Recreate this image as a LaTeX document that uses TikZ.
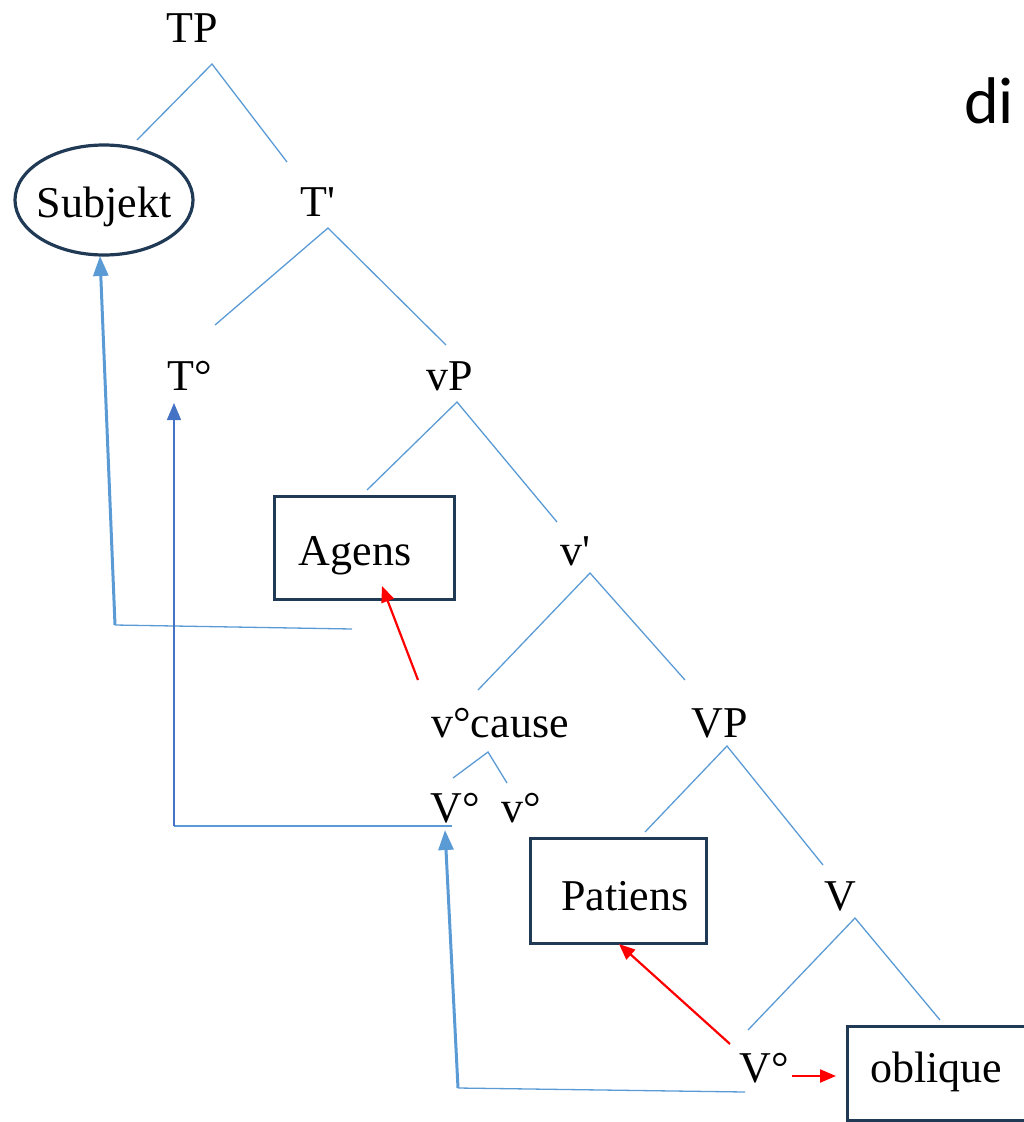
\documentclass[tikz,border=0pt]{standalone}
\usepackage{fontspec}
\setmainfont{Liberation Serif}
\newfontfamily\labelsans{Carlito}
\usetikzlibrary{arrows.meta,shapes.geometric}
\definecolor{branch}{HTML}{5B9BD5}
\definecolor{movedark}{HTML}{4472C4}
\definecolor{frame}{HTML}{203A56}
\begin{document}
\begin{tikzpicture}[x=1pt,y=-1pt,
  lbl/.style={font=\fontsize{44}{48}\selectfont, inner sep=0pt, anchor=base},
  br/.style={branch, line width=1.3pt},
  boxed/.style={draw=frame, line width=3pt, minimum height=103pt, inner sep=0pt, font=\fontsize{44}{48}\selectfont},
  mv/.style={branch, line width=1.3pt},
  mvthick/.style={branch, line width=3pt, -{Triangle[length=20pt,width=15pt]}},
  mvdark/.style={movedark, line width=1.5pt, -{Triangle[length=17pt,width=14pt]}},
  redmove/.style={draw=red, line width=2.2pt, -{Triangle[length=16pt,width=13pt]}}]
\useasboundingbox (0,0) rectangle (1024,1122);

% heading fragment at the right edge
\node[font=\labelsans\fontsize{66}{70}\selectfont, anchor=base west, inner sep=0pt] (di) at (964,123) {di};

% labels
\node[lbl] (TP) at (192,42) {TP};
\node[draw=frame, line width=3.2pt, ellipse, minimum width=178pt, minimum height=110pt, inner sep=0pt] (subj) at (104,200) {};
\node[lbl] (subjtext) at (104,217) {Subjekt};
\node[lbl] (Tbar) at (318,216) {T\textquotesingle};
\node[lbl] (T0) at (190,390) {T°};
\node[lbl] (vP) at (450,390) {vP};
\node[boxed, minimum width=180pt] (agens) at (364,548) {};
\node[lbl] (agenstext) at (355,565) {Agens};
\node[lbl] (vbar) at (575,565) {v\textquotesingle};
\node[lbl] (vcause) at (500,737) {v°cause};
\node[lbl] (VP) at (720,737) {VP};
\node[lbl] (V0a) at (455,822) {V°};
\node[lbl] (v0) at (521,822) {v°};
\node[boxed, minimum width=176pt, minimum height=105pt] (patiens) at (618,891) {};
\node[lbl] (patienstext) at (625,910) {Patiens};
\node[lbl] (Vbar) at (840,910) {V};
\node[lbl] (V0b) at (764,1082) {V°};
\node[boxed, minimum width=190pt, minimum height=94pt] (obl) at (942,1073) {};
\node[lbl] (obltext) at (936,1082) {oblique};

% branch points
\coordinate (tp) at (212,64);
\coordinate (tpL) at (137,140);
\coordinate (tpR) at (287,162);
\coordinate (tb) at (328,228);
\coordinate (tbL) at (215,325);
\coordinate (tbR) at (446,345);
\coordinate (vp) at (457,402);
\coordinate (vpL) at (367,490);
\coordinate (vpR) at (557,522);
\coordinate (vb) at (590,573);
\coordinate (vbL) at (478,690);
\coordinate (vbR) at (685,680);
\coordinate (vc) at (488,752);
\coordinate (vcL) at (453,778);
\coordinate (vcR) at (507,783);
\coordinate (VPt) at (727,746);
\coordinate (VPL) at (645,832);
\coordinate (VPR) at (823,865);
\coordinate (Vt) at (855,918);
\coordinate (VL) at (748,1030);
\coordinate (VR) at (940,1020);

\draw[br] (tpL) -- (tp) -- (tpR);
\draw[br] (tbL) -- (tb) -- (tbR);
\draw[br] (vpL) -- (vp) -- (vpR);
\draw[br] (vbL) -- (vb) -- (vbR);
\draw[br] (vcL) -- (vc) -- (vcR);
\draw[br] (VPL) -- (VPt) -- (VPR);
\draw[br] (VL) -- (Vt) -- (VR);

% movement paths
\coordinate (sA) at (352,629);
\coordinate (sB) at (115,625);
\coordinate (sC) at (100,256);
\draw[mv] (sA) -- (sB);
\draw[mvthick] (sB) -- (sC);

\coordinate (tA) at (452,826);
\coordinate (tB) at (174,826);
\coordinate (tC) at (174,403);
\draw[mv] (tA) -- (tB);
\draw[mvdark] (tB) -- (tC);

\coordinate (wA) at (745,1092);
\coordinate (wB) at (458,1088);
\coordinate (wC) at (445,830);
\draw[mv] (wA) -- (wB);
\draw[mvthick] (wB) -- (wC);

\coordinate (rA) at (418,680);
\coordinate (rB) at (382,586);
\draw[redmove] (rA) -- (rB);
\coordinate (rC) at (730,1044);
\coordinate (rD) at (619,944);
\draw[redmove] (rC) -- (rD);
\coordinate (rE) at (792,1076);
\coordinate (rF) at (836,1076);
\draw[redmove] (rE) -- (rF);
\end{tikzpicture}
\end{document}
